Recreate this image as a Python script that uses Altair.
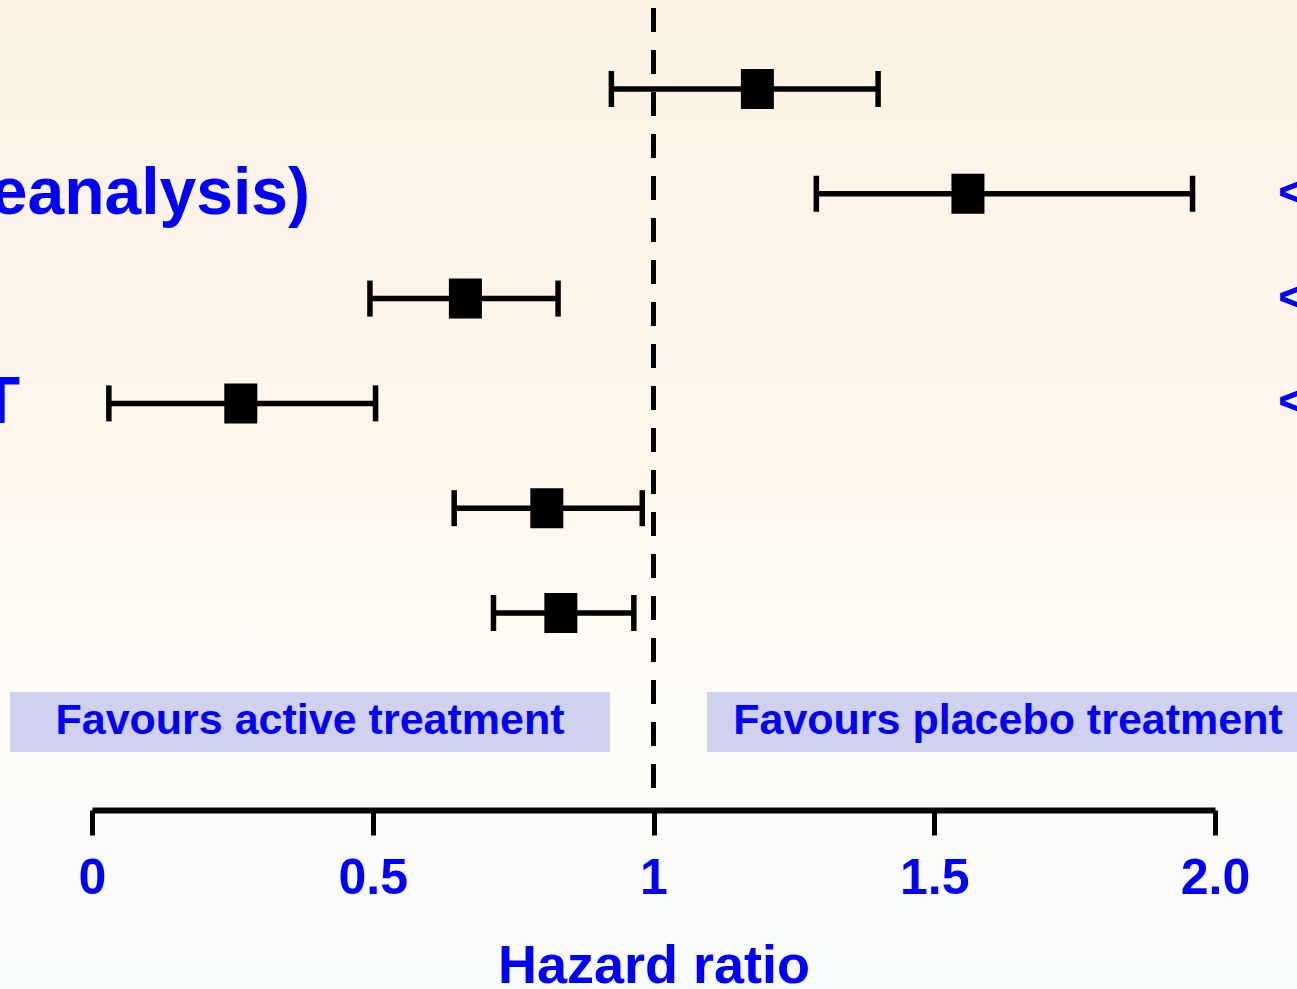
import altair as alt
import pandas as pd

# Hazard ratios with 95% confidence limits, one row per trial (top to bottom)
row = [0, 1, 2, 3, 4, 5]
hr = [1.185, 1.56, 0.665, 0.265, 0.81, 0.835]
ci_low = [0.925, 1.29, 0.495, 0.03, 0.645, 0.715]
ci_high = [1.40, 1.96, 0.83, 0.505, 0.98, 0.965]

# Partly visible row captions and p-value markers
left_labels = ["eanalysis)", "T"]
left_rows = [1, 3]
right_marks = ["<", "<", "<"]
right_rows = [1, 2, 3]

# Axis
tick_values = [0, 0.5, 1, 1.5, 2.0]
tick_labels = ["0", "0.5", "1", "1.5", "2.0"]
no_effect = 1.0

BLUE = "#0000FF"
FONT = "Liberation Sans, Arial, Helvetica, sans-serif"
W, H = 1123, 810
PAD = {"left": 92, "top": 0, "right": 82, "bottom": 179}

df = pd.DataFrame({"row": row, "hr": hr, "lo": ci_low, "hi": ci_high})

label_expr = " : ".join(
    f"datum.value == {v} ? '{t}'" for v, t in zip(tick_values, tick_labels)
) + " : datum.label"

x_scale = alt.Scale(domain=[0, 2], nice=False, zero=False)
y_scale = alt.Scale(domain=[-0.849, 6.880], reverse=True, nice=False, zero=False)

x_enc = alt.X(
    "hr:Q",
    scale=x_scale,
    title="Hazard ratio",
    axis=alt.Axis(
        values=tick_values,
        labelExpr=label_expr,
        domainColor="black",
        domainWidth=6,
        tickColor="black",
        tickWidth=5,
        tickSize=25,
        labelColor=BLUE,
        labelFont=FONT,
        labelFontSize=50,
        labelFontWeight="bold",
        labelPadding=18,
        labelFlush=False,
        grid=False,
        titleColor=BLUE,
        titleFont=FONT,
        titleFontSize=54,
        titleFontWeight="bold",
        titlePadding=36,
        zindex=1,
    ),
)
y_enc = alt.Y("row:Q", scale=y_scale, axis=None)

# Page background: warm cream at the top fading to near white
background = alt.Chart(pd.DataFrame({"a": [0]})).mark_rect(
    color=alt.Gradient(
        gradient="linear",
        stops=[
            alt.GradientStop(color="#FCF3E6", offset=0),
            alt.GradientStop(color="#FDF6EC", offset=0.45),
            alt.GradientStop(color="#FEFCF8", offset=0.72),
            alt.GradientStop(color="#F8FBFC", offset=1),
        ],
        x1=0, x2=0, y1=0, y2=1,
    )
).encode(
    x=alt.value(-PAD["left"]), x2=alt.value(W + PAD["right"]),
    y=alt.value(0), y2=alt.value(H + PAD["bottom"]),
)

# Shaded direction boxes
boxes = pd.DataFrame({
    "x0": [-82, 615], "x1": [518, 1215],
    "tx": [218, 916],
    "text": ["Favours active treatment", "Favours placebo treatment"],
})
box_rects = alt.Chart(boxes).mark_rect(color="#D0D1EF").encode(
    x=alt.X("x0:Q", scale=None), x2="x1:Q",
    y=alt.value(692), y2=alt.value(752),
)
box_text = alt.Chart(boxes).mark_text(
    color=BLUE, font=FONT, fontSize=43, fontWeight="bold", baseline="middle", align="center"
).encode(x=alt.X("tx:Q", scale=None), y=alt.value(721), text="text:N")

# Line of no effect
ref = alt.Chart(pd.DataFrame({"v": [no_effect]})).mark_rule(
    color="black", strokeWidth=5, strokeDash=[24, 18], strokeDashOffset=34
).encode(x=alt.X("v:Q", scale=x_scale), y=alt.value(0), y2=alt.value(788))

base = alt.Chart(df)
whiskers = base.mark_rule(color="black", strokeWidth=5.5).encode(
    x=alt.X("lo:Q", scale=x_scale), x2="hi:Q", y=y_enc
)
cap_shape = "M0,-1L0,1"
caps_lo = base.mark_point(shape=cap_shape, size=1296, strokeWidth=5.5, color="black", opacity=1, filled=False).encode(
    x=alt.X("lo:Q", scale=x_scale), y=y_enc
)
caps_hi = base.mark_point(shape=cap_shape, size=1296, strokeWidth=5.5, color="black", opacity=1, filled=False).encode(
    x=alt.X("hi:Q", scale=x_scale), y=y_enc
)
squares = base.mark_point(
    shape="M-0.825,-1L0.825,-1L0.825,1L-0.825,1Z",
    size=1600, filled=True, color="black", opacity=1, strokeWidth=0,
).encode(x=x_enc, y=y_enc)

left_df = pd.DataFrame({"row": left_rows, "text": left_labels, "xp": [218, -72]})
left_text = alt.Chart(left_df).mark_text(
    color=BLUE, font=FONT, fontSize=66, fontWeight="bold", align="right", baseline="middle"
).encode(x=alt.X("xp:Q", scale=None), y=y_enc, text="text:N")

right_df = pd.DataFrame({"row": right_rows, "text": right_marks})
right_text = alt.Chart(right_df).mark_text(
    color=BLUE, font=FONT, fontSize=48, fontWeight="bold", align="left", baseline="middle"
).encode(x=alt.value(1186), y=y_enc, text="text:N")

chart = alt.layer(
    background, box_rects, box_text, left_text, right_text,
    ref, whiskers, caps_lo, caps_hi, squares,
).properties(
    width=W, height=H, padding=PAD,
    autosize=alt.AutoSizeParams(type="none"),
).configure_view(stroke=None).configure(background="#FDF8F1")

chart.save("out.html", embed_options={"renderer": "svg", "actions": False})
